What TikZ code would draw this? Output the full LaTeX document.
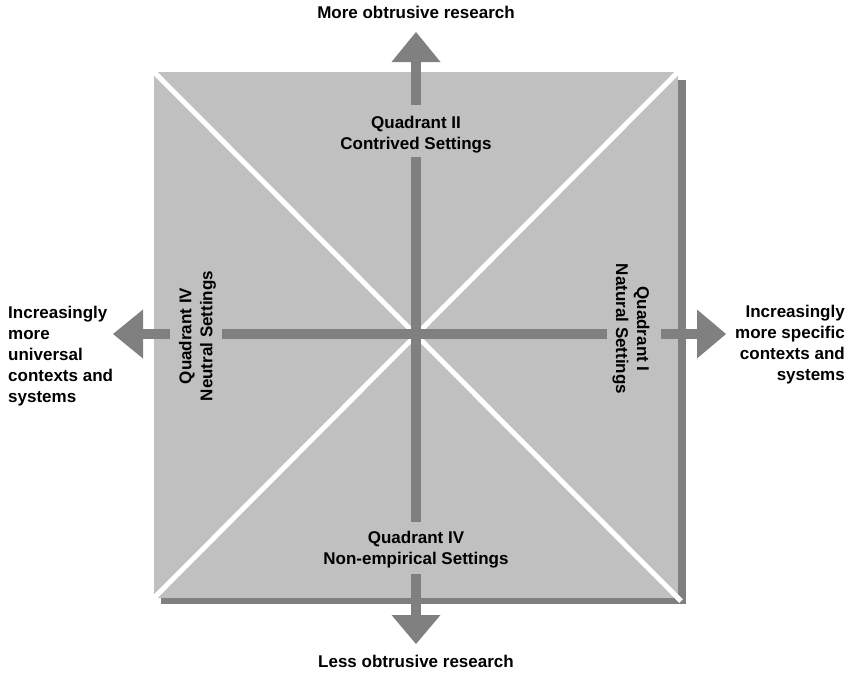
\documentclass[tikz,border=0pt]{standalone}
\usepackage{fontspec}
\setmainfont{Liberation Sans}
\definecolor{arrowgray}{HTML}{808080}
\definecolor{panelgray}{HTML}{C0C0C0}
\begin{document}
\begin{tikzpicture}[x=1pt,y=-1pt,
  lbl/.style={font=\bfseries\fontsize{17}{21}\selectfont, inner sep=0pt, text=black},
  shaft/.style={draw=arrowgray, line width=9.5pt},
  head/.style={fill=arrowgray},
  diag/.style={draw=white, line width=5pt}]
\useasboundingbox (0,0) rectangle (851,672);
% shadow and panel
\fill[arrowgray] (161,80) rectangle (686,604);
\fill[panelgray] (154,72) rectangle (678,598);
\coordinate (tl) at (154,72);
\coordinate (tr) at (678,72);
\coordinate (bl) at (154,598);
\coordinate (br) at (681,601);
\draw[diag] (tl) -- (br);
\draw[diag] (tr) -- (bl);
% arrow heads
\coordinate (ttip) at (416,32);
\coordinate (btip) at (416,644);
\coordinate (ltip) at (113,334);
\coordinate (rtip) at (726,334);
\fill[head] (ttip) -- ++(-24.5,30) -- ++(49,0) -- cycle;
\fill[head] (btip) -- ++(-24.5,-29) -- ++(49,0) -- cycle;
\fill[head] (ltip) -- ++(30,-24.5) -- ++(0,49) -- cycle;
\fill[head] (rtip) -- ++(-29,-24.5) -- ++(0,49) -- cycle;
% shaft end points
\coordinate (t1) at (416,61);
\coordinate (t2) at (416,105);
\coordinate (c1) at (416,157);
\coordinate (c2) at (416,522);
\coordinate (b1) at (416,574);
\coordinate (b2) at (416,616);
\coordinate (l1) at (142,334);
\coordinate (l2) at (170,334);
\coordinate (m1) at (222,334);
\coordinate (m2) at (607,334);
\coordinate (r1) at (661,334);
\coordinate (r2) at (698,334);
\draw[shaft] (t1) -- (t2);
\draw[shaft] (c1) -- (c2);
\draw[shaft] (b1) -- (b2);
\draw[shaft] (l1) -- (l2);
\draw[shaft] (m1) -- (m2);
\draw[shaft] (r1) -- (r2);
% quadrant labels
\node[lbl, align=center] (q2) at (416,134.5) {Quadrant II\\Contrived Settings};
\node[lbl, align=center] (q4) at (416,550) {Quadrant IV\\Non-empirical Settings};
\node[lbl, align=center, rotate=90] (qn) at (197.5,336) {Quadrant IV\\Neutral Settings};
\node[lbl, align=center, rotate=-90] (q1) at (631,329) {Quadrant I\\Natural Settings};
% outer labels
\node[lbl] (top) at (416,12) {More obtrusive research};
\node[lbl] (bot) at (416,661) {Less obtrusive research};
\node[lbl, align=left, anchor=west] (left) at (8,356.5) {Increasingly\\more\\universal\\contexts and\\systems};
\node[lbl, align=right, anchor=east] (right) at (845,344.5) {Increasingly\\more specific\\contexts and\\systems};
\end{tikzpicture}
\end{document}
